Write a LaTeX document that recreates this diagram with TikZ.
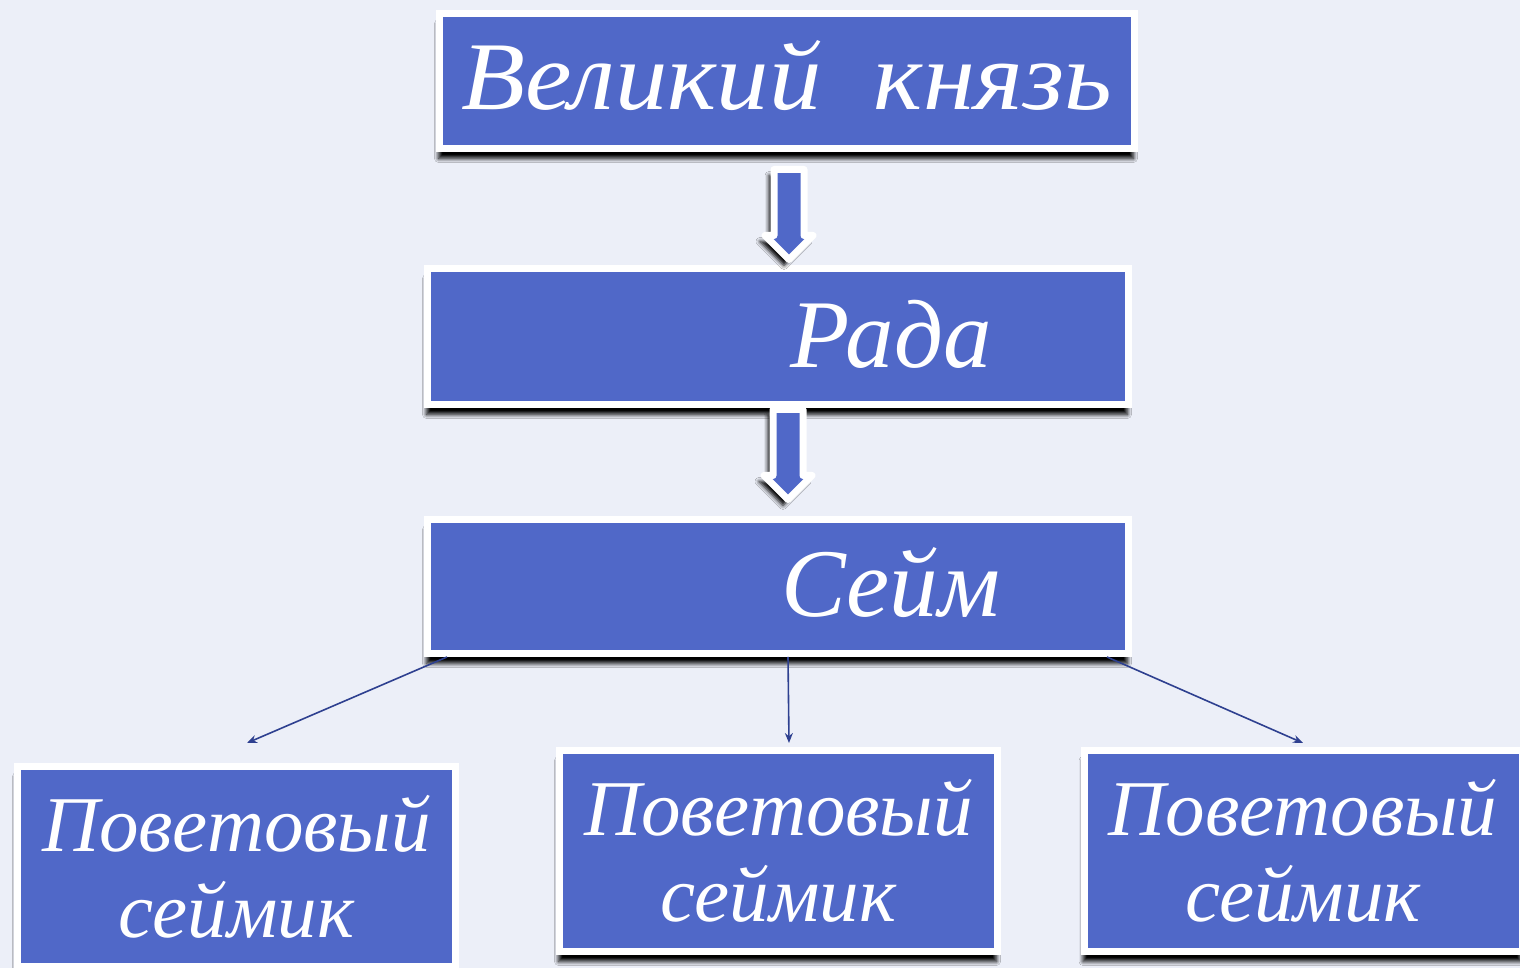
\documentclass[tikz,border=0pt]{standalone}
\usepackage{fontspec}
\setmainfont{Liberation Serif}
\usetikzlibrary{shapes.arrows,shadows.blur,arrows.meta}

\definecolor{fondo}{RGB}{236,239,248}
\definecolor{boxblue}{RGB}{80,104,200}
\definecolor{linkblue}{RGB}{46,64,144}

\tikzset{
  boxshadow/.style={blur shadow={shadow xshift=-1pt, shadow yshift=-10pt, shadow blur radius=4pt, shadow blur steps=8, shadow opacity=100}},
  level/.style={draw=white, fill=boxblue, line width=7pt, text=white, inner sep=0pt, boxshadow},
  bigtext/.style={font=\fontsize{97}{100}\selectfont\itshape, text=white, text height=64pt, text depth=6pt},
  smalltext/.style={font=\fontsize{79}{86}\selectfont\itshape, align=center},
  hollow/.style={single arrow, draw=white, fill=boxblue, line width=7pt, line join=round, inner sep=11.5pt,
    single arrow head extend=9pt, single arrow tip angle=90, minimum height=90pt,
    shape border rotate=270, blur shadow={shadow xshift=-5pt, shadow yshift=-6pt, shadow blur radius=4pt, shadow opacity=100}},
  link/.style={draw=linkblue, line width=1.6pt, -{Stealth[length=10pt,width=8pt]}}
}

\begin{document}
\begin{tikzpicture}[x=1pt, y=1pt]
\fill[fondo] (0,0) rectangle (1520,968);
\useasboundingbox (0,0) rectangle (1520,968);

\node[level, bigtext, font=\fontsize{97}{100}\selectfont\itshape\addfontfeature{FakeStretch=1.08}, minimum width=695pt, minimum height=135pt] (knyaz) at (787,887) {Великий~~князь};
\node[level, minimum width=701pt, minimum height=136pt] (rada) at (778,631.5) {};
\node[bigtext, anchor=base] (radat) at ([xshift=113pt, yshift=-31.5pt]rada.center) {Рада};
\node[level, minimum width=701pt, minimum height=134pt] (seim) at (778,381.5) {};
\node[bigtext, anchor=base] (seimt) at ([xshift=113pt, yshift=-30.5pt]seim.center) {Сейм};

\node[hollow] (arr1) at (789,761) {};
\node[hollow] (arr2) at (788,521) {};

\node[level, smalltext, minimum width=438pt, minimum height=200pt] (povL) at (236.5,101.5) {Поветовый\\сеймик};
\node[level, smalltext, minimum width=438pt, minimum height=201pt] (povM) at (778.5,117) {Поветовый\\сеймик};
\node[level, smalltext, minimum width=438pt, minimum height=201pt] (povR) at (1303,117) {Поветовый\\сеймик};

\coordinate (tipL) at (247,225);
\coordinate (tipM) at (789,225);
\coordinate (tipR) at (1303,225);
\draw[link] ([xshift=23pt]seim.south west) -- (tipL);
\draw[link] ([xshift=10pt]seim.south) -- (tipM);
\draw[link] ([xshift=-25pt]seim.south east) -- (tipR);
\end{tikzpicture}
\end{document}
